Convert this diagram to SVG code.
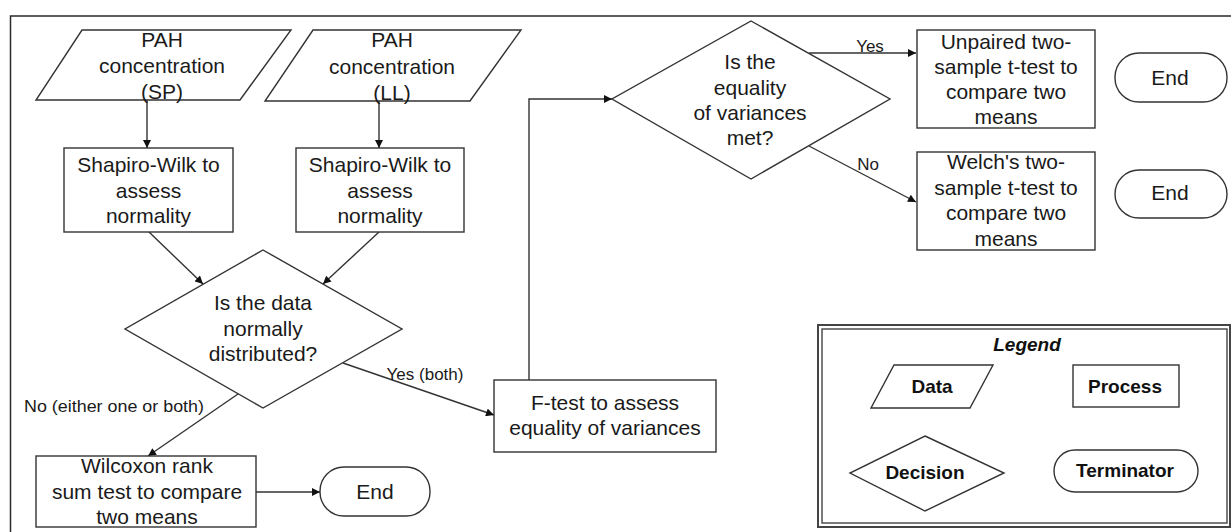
<svg xmlns="http://www.w3.org/2000/svg" width="1231" height="532" viewBox="0 0 1231 532">
<style>
.s{fill:#fff;stroke:#333;stroke-width:1.4}
.t{font-family:"Liberation Sans",Arial,sans-serif;font-size:21px;fill:#1a1a1a;text-anchor:middle}
.l{font-family:"Liberation Sans",Arial,sans-serif;font-size:17px;fill:#1a1a1a;text-anchor:middle}
.b{font-family:"Liberation Sans",Arial,sans-serif;font-size:19px;font-weight:bold;fill:#111;text-anchor:middle}
.c{fill:none;stroke:#333;stroke-width:1.4}
</style>
<defs>
<marker id="ah" viewBox="0 0 10 10" refX="10" refY="5" markerWidth="9" markerHeight="8" markerUnits="userSpaceOnUse" orient="auto">
<path d="M0,0 L10,5 L0,10 z" fill="#111"/>
</marker>
</defs>
<rect width="1231" height="532" fill="#fff"/>
<rect x="10.5" y="16" width="1240" height="540" fill="none" stroke="#2a2a2a" stroke-width="1.5"/>

<g id="connectors">
<line class="c" x1="147" y1="100" x2="147" y2="148" marker-end="url(#ah)"/>
<line class="c" x1="379" y1="101" x2="379" y2="148" marker-end="url(#ah)"/>
<line class="c" x1="149" y1="232" x2="203" y2="284" marker-end="url(#ah)"/>
<line class="c" x1="379" y1="232" x2="323" y2="284" marker-end="url(#ah)"/>
<line class="c" x1="238" y1="394" x2="148" y2="456" marker-end="url(#ah)"/>
<line class="c" x1="343" y1="363" x2="494" y2="415" marker-end="url(#ah)"/>
<line class="c" x1="256" y1="492" x2="320" y2="492" marker-end="url(#ah)"/>
<polyline class="c" points="529,380 529,99 612,99" marker-end="url(#ah)"/>
<line class="c" x1="809" y1="53" x2="916" y2="53" marker-end="url(#ah)"/>
<line class="c" x1="809" y1="146" x2="916" y2="202" marker-end="url(#ah)"/>
<text class="l" x="114" y="412" textLength="180" lengthAdjust="spacingAndGlyphs">No (either one or both)</text>
<text class="l" x="425" y="380">Yes (both)</text>
<text class="l" x="870" y="52">Yes</text>
<text class="l" x="868" y="170">No</text>
</g>

<g id="data-sp">
<polygon class="s" points="82,30 291,30 240,100 36,100"/>
<text class="t" x="162" y="47">PAH</text>
<text class="t" x="162" y="73">concentration</text>
<text class="t" x="162" y="99">(SP)</text>
</g>
<g id="data-ll">
<polygon class="s" points="313,30 521,30 470,101 265,101"/>
<text class="t" x="392" y="47">PAH</text>
<text class="t" x="392" y="74">concentration</text>
<text class="t" x="392" y="100">(LL)</text>
</g>
<g id="sw-sp">
<rect class="s" x="64" y="148" width="169" height="84"/>
<text class="t" x="148.5" y="172">Shapiro-Wilk to</text>
<text class="t" x="148.5" y="198">assess</text>
<text class="t" x="148.5" y="223">normality</text>
</g>
<g id="sw-ll">
<rect class="s" x="296" y="148" width="168" height="84"/>
<text class="t" x="380" y="172">Shapiro-Wilk to</text>
<text class="t" x="380" y="198">assess</text>
<text class="t" x="380" y="223">normality</text>
</g>
<g id="decision-normal">
<polygon class="s" points="263,250 402,329 263,408 125,329"/>
<text class="t" x="263" y="310">Is the data</text>
<text class="t" x="263" y="336">normally</text>
<text class="t" x="263" y="361">distributed?</text>
</g>
<g id="wilcoxon">
<rect class="s" x="36" y="456" width="220" height="71"/>
<text class="t" x="147" y="473">Wilcoxon rank</text>
<text class="t" x="147" y="499">sum test to compare</text>
<text class="t" x="147" y="524">two means</text>
</g>
<g id="end1">
<rect class="s" x="320" y="467" width="110" height="49" rx="24"/>
<text class="t" x="375" y="499">End</text>
</g>
<g id="ftest">
<rect class="s" x="494" y="380" width="222" height="72"/>
<text class="t" x="605" y="410">F-test to assess</text>
<text class="t" x="605" y="435">equality of variances</text>
</g>
<g id="decision-var">
<polygon class="s" points="751,21 890,99 751,179 612,99"/>
<text class="t" x="750" y="69">Is the</text>
<text class="t" x="750" y="95">equality</text>
<text class="t" x="750" y="120">of variances</text>
<text class="t" x="750" y="145">met?</text>
</g>
<g id="unpaired">
<rect class="s" x="917" y="30" width="178" height="98"/>
<text class="t" x="1006" y="49">Unpaired two-</text>
<text class="t" x="1006" y="74">sample t-test to</text>
<text class="t" x="1006" y="99">compare two</text>
<text class="t" x="1006" y="124">means</text>
</g>
<g id="welch">
<rect class="s" x="917" y="152" width="178" height="98"/>
<text class="t" x="1006" y="169">Welch's two-</text>
<text class="t" x="1006" y="195">sample t-test to</text>
<text class="t" x="1006" y="220">compare two</text>
<text class="t" x="1006" y="246">means</text>
</g>
<g id="end2">
<rect class="s" x="1115" y="53" width="112" height="49" rx="24"/>
<text class="t" x="1170" y="85">End</text>
</g>
<g id="end3">
<rect class="s" x="1115" y="170" width="112" height="48" rx="24"/>
<text class="t" x="1170" y="200">End</text>
</g>

<g id="legend">
<rect x="818" y="325" width="412" height="202" fill="#fff" stroke="#444" stroke-width="2"/>
<rect x="822" y="329" width="405" height="194" fill="none" stroke="#444" stroke-width="1.4"/>
<text class="b" x="1027" y="351" font-style="italic" font-size="18">Legend</text>
<polygon class="s" points="894,365 993,365 970,408 871,408"/>
<text class="b" x="932" y="393">Data</text>
<rect class="s" x="1073" y="365" width="106" height="42"/>
<text class="b" x="1125" y="393">Process</text>
<polygon class="s" points="925,436 1004,473 925,511 850,473"/>
<text class="b" x="925" y="479">Decision</text>
<rect class="s" x="1054" y="450" width="144" height="42" rx="21"/>
<text class="b" x="1125" y="477">Terminator</text>
</g>
</svg>
